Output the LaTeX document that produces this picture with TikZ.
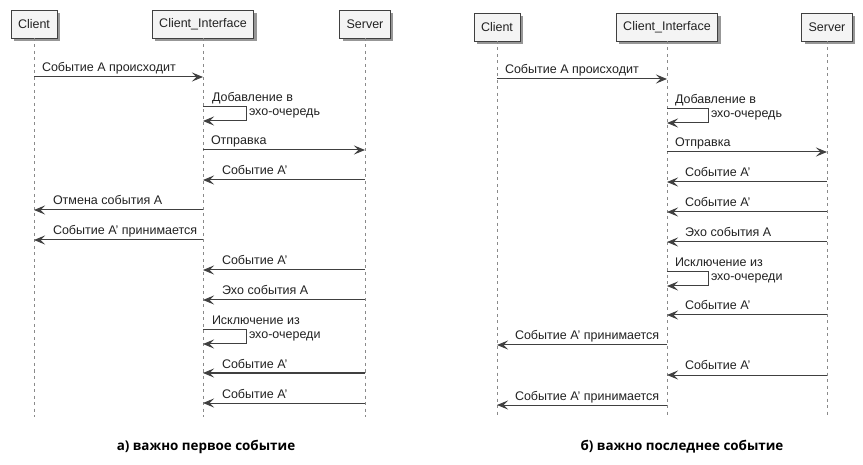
\documentclass[tikz,border=0pt]{standalone}
\usepackage{fontspec}
\setmainfont{Liberation Sans}
\newfontfamily\capfont{Open Sans}
\usepackage{tikz}
\usetikzlibrary{positioning,arrows.meta,shadows}

\definecolor{boxfill}{HTML}{F4F4F4}
\definecolor{linegray}{HTML}{404040}
\definecolor{lifegray}{HTML}{8A8A8A}
\definecolor{txtgray}{HTML}{222222}

\begin{document}
\begin{tikzpicture}[
            x=1pt, y=-1pt,
            outer sep=0pt,
            head/.style={
                draw=linegray, fill=boxfill, line width=0.9pt, minimum height=28pt, inner xsep=7pt, text=txtgray, font=\fontsize{12.5}{14}\selectfont,
                drop shadow={shadow xshift=3pt, shadow yshift=-3pt, fill=black!45, opacity=0.9}
            },
            life/.style={
                draw=lifegray, line width=0.9pt, dash pattern=on 3pt off 3.5pt
            },
            msg/.style={
                draw=linegray, line width=1pt, -{Stealth[length=11pt, width=9pt, inset=4.5pt]}
            },
            lbl/.style={
                anchor=base west, inner sep=0pt, text=txtgray, font=\fontsize{12.5}{14}\selectfont
            },
            capt/.style={
                anchor=center, text=black, font=\capfont\bfseries\fontsize{13.4}{16}\selectfont
            }
        ]
            \useasboundingbox[fill=white] (0,0) rectangle (863,465);

            % A) ВАЖНО ПЕРВОЕ СОБЫТИЕ
            \node[head] (cla) at (34,24) {Client};
            \node[head] (cia) at (203,24) {Client\_Interface};
            \node[head] (sva) at (365,24) {Server};

            \draw[life] (cla.south) -- (cla |- 0,417);
            \draw[life] (cia.south) -- (cia |- 0,417);
            \draw[life] (sva.south) -- (sva |- 0,417);

            \draw[msg] (cla |- 0,77) -- (cia |- 0,77);
            \node[lbl] (ma1) at (42,72) {Событие A происходит};

            % петля: добавление в эхо-очередь
            \draw[msg] (cia |- 0,107) -- ++(43,0) |- (cia |- 0,121);
            \node[lbl] (ma2) at (212,102) {Добавление в};
            \node[lbl] (ma2b) at (249,116) {эхо-очередь};

            \draw[msg] (cia |- 0,150) -- (sva |- 0,150);
            \node[lbl] (ma3) at (211,145) {Отправка};

            \draw[msg] (sva |- 0,180) -- (cia |- 0,180);
            \node[lbl] (ma4) at (222,175) {Событие A'};

            \draw[msg] (cia |- 0,210) -- (cla |- 0,210);
            \node[lbl] (ma5) at (53,205) {Отмена события A};

            \draw[msg] (cia |- 0,240) -- (cla |- 0,240);
            \node[lbl] (ma6) at (53,235) {Событие A' принимается};

            \draw[msg] (sva |- 0,270) -- (cia |- 0,270);
            \node[lbl] (ma7) at (222,265) {Событие A'};

            \draw[msg] (sva |- 0,300) -- (cia |- 0,300);
            \node[lbl] (ma8) at (222,295) {Эхо события A};

            % петля: исключение из эхо-очереди
            \draw[msg] (cia |- 0,330) -- ++(43,0) |- (cia |- 0,344);
            \node[lbl] (ma9) at (212,325) {Исключение из};
            \node[lbl] (ma9b) at (249,339) {эхо-очереди};

            \draw[msg] (sva |- 0,373) -- (cia |- 0,373);
            \node[lbl] (ma10) at (222,368) {Событие A'};

            \draw[msg] (sva |- 0,403) -- (cia |- 0,403);
            \node[lbl] (ma11) at (222,398) {Событие A'};

            \node[capt] (capa) at (206,447) {а) важно первое событие};

            % Б) ВАЖНО ПОСЛЕДНЕЕ СОБЫТИЕ
            \begin{scope}[shift={(463,2)}]
            \node[head] (clb) at (34,25) {Client};
            \node[head] (cib) at (204,25) {Client\_Interface};
            \node[head] (svb) at (364,25) {Server};

            \draw[life] (clb.south) -- (clb |- 0,416);
            \draw[life] (cib.south) -- (cib |- 0,416);
            \draw[life] (svb.south) -- (svb |- 0,416);

            \draw[msg] (clb |- 0,77) -- (cib |- 0,77);
            \node[lbl] (mb1) at (42,72) {Событие A происходит};

            % петля: добавление в эхо-очередь
            \draw[msg] (cib |- 0,107) -- ++(41,0) |- (cib |- 0,121);
            \node[lbl] (mb2) at (212,102) {Добавление в};
            \node[lbl] (mb2b) at (248,116) {эхо-очередь};

            \draw[msg] (cib |- 0,150) -- (svb |- 0,150);
            \node[lbl] (mb3) at (212,145) {Отправка};

            \draw[msg] (svb |- 0,180) -- (cib |- 0,180);
            \node[lbl] (mb4) at (222,175) {Событие A'};

            \draw[msg] (svb |- 0,210) -- (cib |- 0,210);
            \node[lbl] (mb5) at (222,205) {Событие A'};

            \draw[msg] (svb |- 0,240) -- (cib |- 0,240);
            \node[lbl] (mb6) at (222,235) {Эхо события A};

            % петля: исключение из эхо-очереди
            \draw[msg] (cib |- 0,270) -- ++(41,0) |- (cib |- 0,284);
            \node[lbl] (mb7) at (212,265) {Исключение из};
            \node[lbl] (mb7b) at (248,279) {эхо-очереди};

            \draw[msg] (svb |- 0,313) -- (cib |- 0,313);
            \node[lbl] (mb8) at (222,308) {Событие A'};

            \draw[msg] (cib |- 0,343) -- (clb |- 0,343);
            \node[lbl] (mb9) at (52,338) {Событие A' принимается};

            \draw[msg] (svb |- 0,373) -- (cib |- 0,373);
            \node[lbl] (mb10) at (222,368) {Событие A'};

            \draw[msg] (cib |- 0,403) -- (clb |- 0,403);
            \node[lbl] (mb11) at (52,398) {Событие A' принимается};

            \node[capt] (capb) at (219,445) {б) важно последнее событие};
            \end{scope}

        \end{tikzpicture}
\end{document}
